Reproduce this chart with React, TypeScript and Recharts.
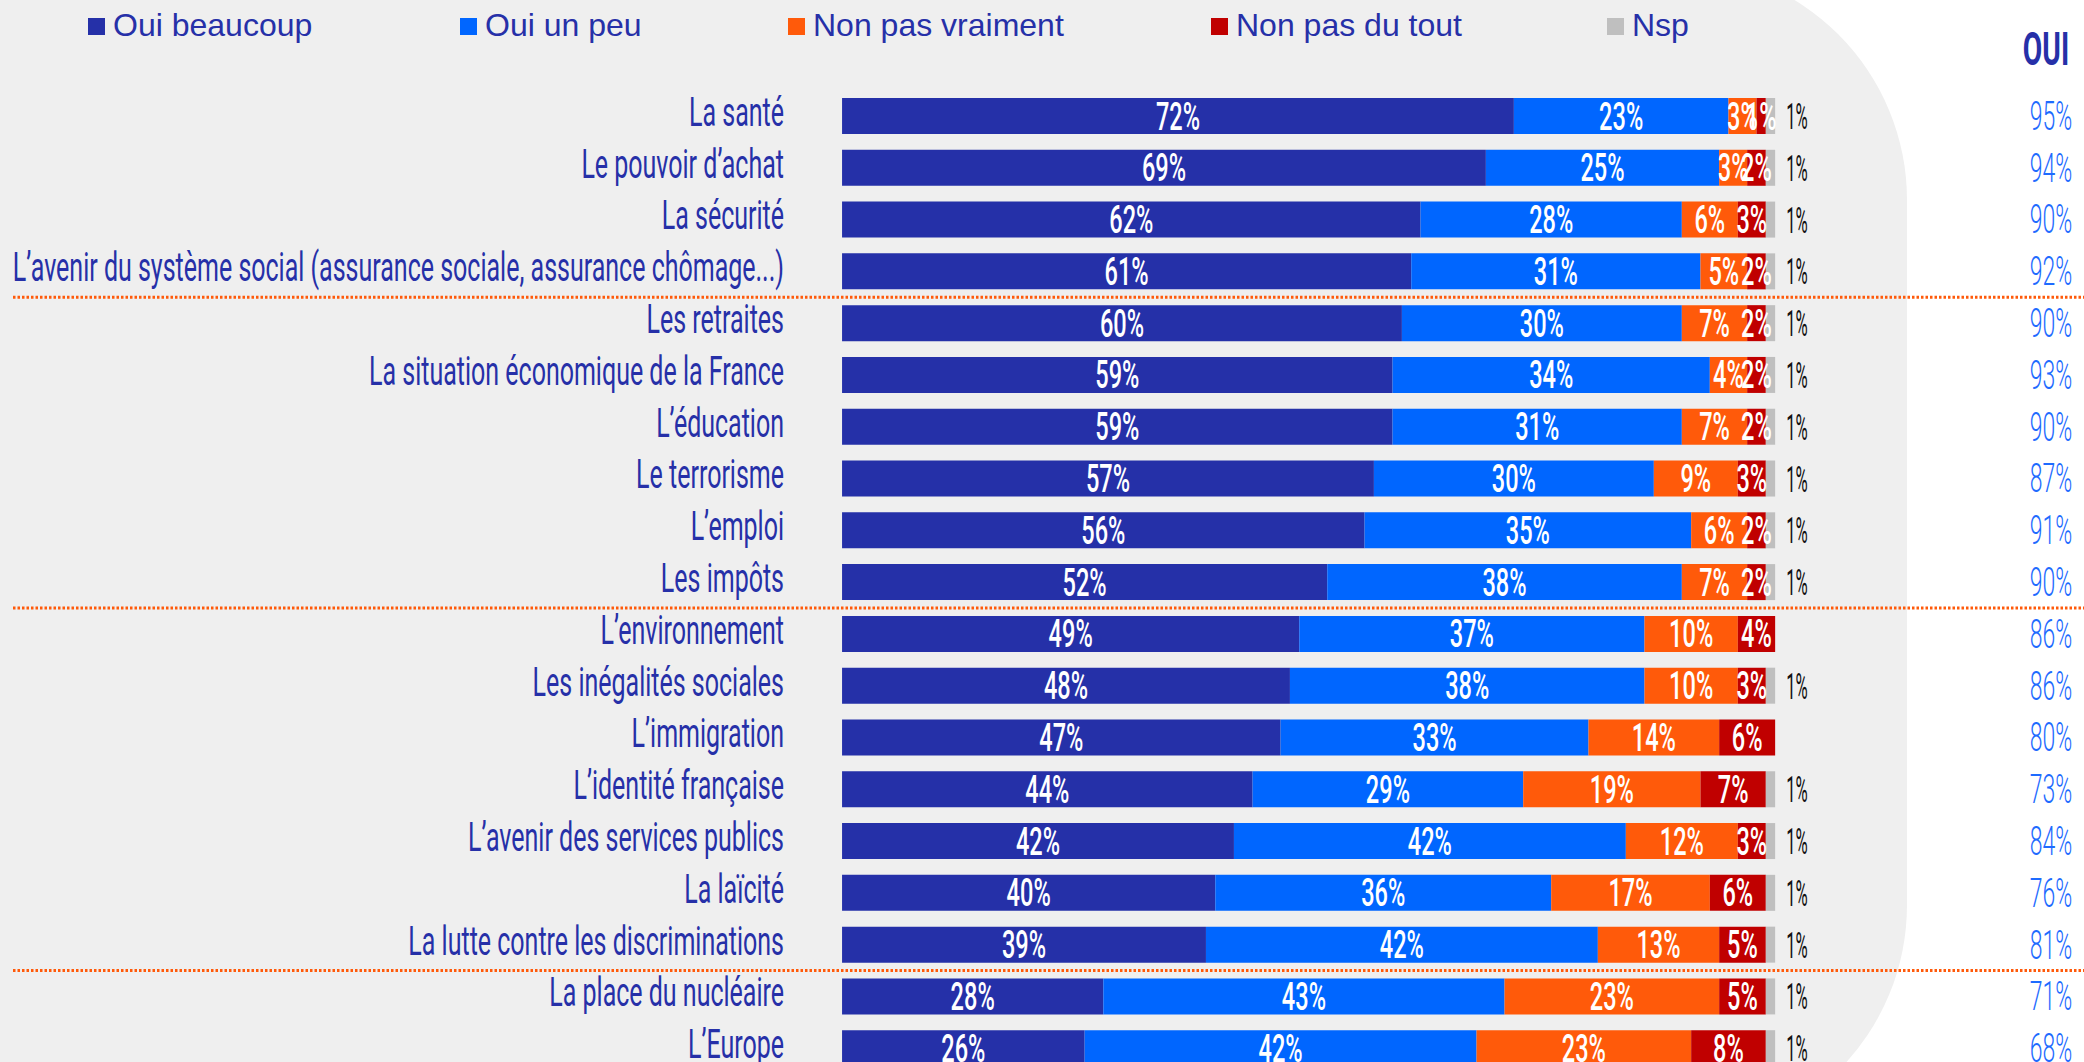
import React from 'react';
import { BarChart, Bar, XAxis, YAxis, LabelList, ReferenceLine } from 'recharts';

const categories = [
  'La santé',
  'Le pouvoir d’achat',
  'La sécurité',
  'L’avenir du système social (assurance sociale, assurance chômage...)',
  'Les retraites',
  'La situation économique de la France',
  'L’éducation',
  'Le terrorisme',
  'L’emploi',
  'Les impôts',
  'L’environnement',
  'Les inégalités sociales',
  'L’immigration',
  'L’identité française',
  'L’avenir des services publics',
  'La laïcité',
  'La lutte contre les discriminations',
  'La place du nucléaire',
  'L’Europe',
];

const ouiBeaucoup = [72, 69, 62, 61, 60, 59, 59, 57, 56, 52, 49, 48, 47, 44, 42, 40, 39, 28, 26];
const ouiUnPeu = [23, 25, 28, 31, 30, 34, 31, 30, 35, 38, 37, 38, 33, 29, 42, 36, 42, 43, 42];
const nonPasVraiment = [3, 3, 6, 5, 7, 4, 7, 9, 6, 7, 10, 10, 14, 19, 12, 17, 13, 23, 23];
const nonPasDuTout = [1, 2, 3, 2, 2, 2, 2, 3, 2, 2, 4, 3, 6, 7, 3, 6, 5, 5, 8];
const nsp = [1, 1, 1, 1, 1, 1, 1, 1, 1, 1, 0, 1, 0, 1, 1, 1, 1, 1, 1];
const ouiTotal = [95, 94, 90, 92, 90, 93, 90, 87, 91, 90, 86, 86, 80, 73, 84, 76, 81, 71, 68];

// a dotted separator is drawn above each of these rows
const groupStarts = ['Les retraites', 'L’environnement', 'La place du nucléaire'];

const NAVY = '#2630a8';
const series = [
  { key: 'beaucoup', name: 'Oui beaucoup', color: '#2530a8' },
  { key: 'unPeu', name: 'Oui un peu', color: '#0066ff' },
  { key: 'pasVraiment', name: 'Non pas vraiment', color: '#ff5a0a' },
  { key: 'pasDuTout', name: 'Non pas du tout', color: '#c00000' },
  { key: 'nsp', name: 'Nsp', color: '#bfbfbf' },
];
const legendX = [88, 460, 788, 1211, 1607];

const data = categories.map((name, i) => ({
  name,
  beaucoup: ouiBeaucoup[i],
  unPeu: ouiUnPeu[i],
  pasVraiment: nonPasVraiment[i],
  pasDuTout: nonPasDuTout[i],
  nsp: nsp[i],
}));

const FONT = 'Roboto, "DejaVu Sans", sans-serif';

const CategoryTick = (props: any) => {
  const { y, payload } = props;
  const idx = categories.indexOf(payload.value);
  return (
    <g>
      <text
        transform={`translate(784, ${y + 10}) scale(0.625, 1)`}
        textAnchor="end"
        fontFamily={FONT}
        fontWeight={400}
        fontSize={40}
        fill={NAVY}
      >
        {payload.value}
      </text>
      <text
        transform={`translate(2051, ${y + 14}) scale(0.56, 1)`}
        textAnchor="middle"
        fontFamily={FONT}
        fontWeight={300}
        fontSize={41}
        fill="#1e6bff"
      >
        {ouiTotal[idx]}%
      </text>
    </g>
  );
};

const insideLabel = (props: any) => {
  const { x, y, width, height, value } = props;
  if (!value) return null;
  const cx = Number(x) + Number(width) / 2;
  const cy = Number(y) + Number(height) / 2;
  return (
    <text
      transform={`translate(${cx}, ${cy + 13.5}) scale(0.62, 1)`}
      textAnchor="middle"
      fontFamily={FONT}
      fontWeight={500}
      fontSize={38}
      fill="#ffffff"
    >
      {value}%
    </text>
  );
};

const nspLabel = (props: any) => {
  const { x, y, width, height, value } = props;
  if (!value) return null;
  const lx = Number(x) + Number(width) + 11;
  const cy = Number(y) + Number(height) / 2;
  return (
    <text
      transform={`translate(${lx}, ${cy + 13}) scale(0.45, 1)`}
      textAnchor="start"
      fontFamily={FONT}
      fontWeight={400}
      fontSize={37}
      fill="#111111"
    >
      {value}%
    </text>
  );
};

export default function App() {
  return (
    <div
      style={{
        position: 'absolute',
        left: 0,
        top: 0,
        width: 2084,
        height: 1062,
        overflow: 'hidden',
        background: '#ffffff',
      }}
    >
      <div
        style={{
          position: 'absolute',
          left: -300,
          top: -34,
          width: 2207,
          height: 1173,
          borderRadius: 234,
          background: '#efefef',
        }}
      />
      {series.map((s, i) => (
        <div
          key={s.key}
          style={{
            position: 'absolute',
            left: legendX[i],
            top: 7,
            display: 'flex',
            alignItems: 'center',
            whiteSpace: 'nowrap',
          }}
        >
          <div style={{ width: 17, height: 17, background: s.color, marginRight: 8, marginTop: 2 }} />
          <span
            style={{
              fontFamily: '"Liberation Sans", Arial, sans-serif',
              fontSize: 32,
              lineHeight: '36px',
              color: NAVY,
            }}
          >
            {s.name}
          </span>
        </div>
      ))}
      <svg style={{ position: 'absolute', left: 0, top: 0 }} width={2084} height={80}>
        <text
          transform="translate(2046, 65) scale(0.6, 1)"
          textAnchor="middle"
          fontFamily={FONT}
          fontWeight={700}
          fontSize={47}
          fill={NAVY}
        >
          OUI
        </text>
      </svg>
      <div style={{ position: 'absolute', left: 0, top: 0 }}>
        <BarChart
          layout="vertical"
          width={2084}
          height={1074}
          data={data}
          margin={{ top: 90, right: 0, bottom: 0, left: 12 }}
          barCategoryGap={0}
        >
          <XAxis type="number" domain={[-88.85, 133.1]} allowDataOverflow hide />
          <YAxis
            type="category"
            dataKey="name"
            width={1}
            interval={0}
            axisLine={false}
            tickLine={false}
            tick={CategoryTick}
          />
          {groupStarts.map((c) => (
            <ReferenceLine
              key={c}
              y={c}
              position="start"
              stroke="#ff5a0a"
              strokeWidth={3}
              strokeDasharray="2.5 2"
              ifOverflow="visible"
            />
          ))}
          {series.map((s) => (
            <Bar
              key={s.key}
              dataKey={s.key}
              name={s.name}
              stackId="a"
              fill={s.color}
              barSize={36}
              isAnimationActive={false}
            >
              <LabelList dataKey={s.key} content={s.key === 'nsp' ? nspLabel : insideLabel} />
            </Bar>
          ))}
        </BarChart>
      </div>
    </div>
  );
}
